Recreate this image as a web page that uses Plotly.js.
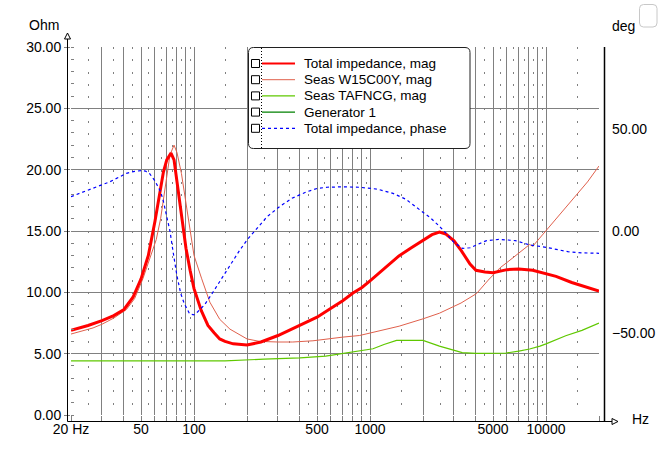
<!DOCTYPE html>
<html><head><meta charset="utf-8">
<script src="https://cdn.plot.ly/plotly-3.0.1.min.js"></script>
<style>html,body{margin:0;padding:0;background:#fff;}#chart{width:672px;height:469px;}</style>
</head><body><div id="chart"></div>
<script>
// ---------- data ----------
const seriesNames = ['Total impedance, mag', 'Seas W15C00Y, mag', 'Seas TAFNCG, mag', 'Generator 1', 'Total impedance, phase'];

const totalFreq = [20, 25, 30, 35, 40, 45, 50, 55, 60, 64, 67, 70, 74, 77, 80, 85, 90, 95, 100, 110, 120, 130, 140, 150, 167, 200, 240, 300, 400, 500, 600, 700, 800, 900, 1000, 1200, 1460, 1700, 2000, 2250, 2480, 2700, 3000, 3300, 3700, 4000, 4500, 5000, 6000, 7000, 8400, 10000, 11400, 14000, 17000, 20000];
const totalOhm  = [6.9, 7.3, 7.7, 8.1, 8.6, 9.6, 11.1, 13.0, 15.8, 18.0, 19.8, 20.8, 21.35, 20.8, 19.0, 16.3, 13.6, 11.8, 10.3, 8.5, 7.3, 6.7, 6.2, 6.0, 5.8, 5.7, 5.95, 6.48, 7.3, 7.97, 8.7, 9.32, 9.94, 10.4, 10.94, 11.9, 12.97, 13.6, 14.27, 14.7, 14.92, 14.75, 14.2, 13.4, 12.3, 11.8, 11.65, 11.6, 11.85, 11.9, 11.8, 11.55, 11.3, 10.8, 10.45, 10.1];

const wooferFreq = [20, 26.7, 30, 35, 41.3, 46, 51.2, 56, 61, 64.6, 67.2, 70, 73, 77, 80, 84.8, 90.9, 96.7, 100, 110.6, 123, 140, 160, 200, 236, 300, 364, 474, 567, 700, 872, 1100, 1463, 2000, 2480, 3290, 4030, 4700, 5480, 5960, 6700, 7500, 8070, 8400, 9000, 10050, 13000, 17200, 20000];
const wooferOhm  = [6.6, 7.1, 7.4, 7.9, 8.6, 9.5, 11.1, 12.7, 14.3, 16.0, 17.8, 19.6, 21.2, 22.0, 21.4, 19.7, 17.0, 14.3, 13.0, 11.1, 9.2, 7.8, 7.0, 6.2, 6.0, 5.95, 5.95, 6.05, 6.2, 6.35, 6.48, 6.8, 7.24, 7.84, 8.3, 9.13, 9.9, 11.0, 12.0, 12.4, 13.0, 13.6, 13.9, 13.75, 14.25, 15.1, 17.0, 19.0, 20.3];

const tweeterFreq = [20, 150, 250, 400, 560, 700, 850, 1040, 1200, 1415, 2000, 2480, 3014, 3340, 4000, 5910, 7000, 8070, 9240, 10000, 12940, 16000, 20000];
const tweeterOhm  = [4.42, 4.42, 4.55, 4.65, 4.8, 5.0, 5.2, 5.4, 5.75, 6.08, 6.08, 5.62, 5.27, 5.08, 5.02, 5.05, 5.2, 5.38, 5.62, 5.8, 6.46, 6.9, 7.5];

const generatorFreq = [];
const generatorOhm  = [];

const phaseFreq = [20, 26.7, 33.3, 41.3, 46, 50, 53, 56, 60, 64.6, 67, 70, 73, 76, 80, 84, 88, 94.5, 100, 105, 115, 128.6, 145, 160, 180, 200, 227, 260, 306, 360, 437, 500, 570, 700, 870, 1100, 1350, 1600, 1920, 2200, 2440, 2700, 2970, 3360, 3700, 4040, 4590, 5460, 6690, 8070, 10050, 13300, 16000, 20000];
const phaseDeg  = [16.8, 20.9, 24.1, 28.2, 29.2, 29.5, 29.3, 28, 24.5, 19.2, 14.5, 7, 0, -10, -22, -30.5, -35.5, -40.6, -41, -39.5, -36, -29.7, -22.5, -16.5, -10, -4.4, 1.3, 7, 11.9, 16, 19.2, 20.8, 21.4, 21.6, 21.4, 20.5, 18.4, 15.5, 10.3, 6.5, 2.9, -1, -5.2, -8.5, -8.2, -6.8, -4.7, -4.1, -4.7, -6.8, -8, -10.1, -10.7, -10.9];

const xTickVals = [20, 50, 100, 500, 1000, 5000, 10000];
const xTickText = ['20 Hz', '50', '100', '500', '1000', '5000', '10000'];
const xGridVals = [20, 30, 40, 50, 60, 70, 80, 90, 100, 200, 300, 400, 500, 600, 700, 800, 900, 1000, 2000, 3000, 4000, 5000, 6000, 7000, 8000, 9000, 10000, 20000];
const xDotVals = [25, 35, 45, 55, 65, 75, 85, 95, 100, 150, 250, 350, 450, 550, 650, 750, 850, 950, 1000, 1500, 2500, 3500, 4500, 5500, 6500, 7500, 8500, 9500, 10000, 15000];
const yTickVals = [0, 5, 10, 15, 20, 25, 30];
const phaseTickVals = [-50, 0, 50];

// ---------- styles ----------
const colors = ['#ff0000', '#e0604c', '#5fc800', '#008000', '#0000ff'];
const widths = [3, 1, 1.2, 1.2, 1.2];
const dashes = ['solid', 'solid', 'solid', 'solid', '3px,3px'];

const W = 672, H = 469;
const L = 71, R = 599, T = 47, B = 415;
const fx = p => (p - L) / (R - L);
const fy = p => (B - p) / (B - T);
const FONT = 'Liberation Sans, Arial, sans-serif';

function pathPx(points, close) {
  return points.map((p, i) => (i ? 'L' : 'M') + fx(p[0]) + ',' + fy(p[1])).join(' ') + (close ? ' Z' : '');
}
function roundRect(x0, y0, x1, y1, r) {
  const P = (x, y) => fx(x) + ',' + fy(y);
  return 'M' + P(x0 + r, y0) + ' L' + P(x1 - r, y0) + ' Q' + P(x1, y0) + ' ' + P(x1, y0 + r) +
    ' L' + P(x1, y1 - r) + ' Q' + P(x1, y1) + ' ' + P(x1 - r, y1) +
    ' L' + P(x0 + r, y1) + ' Q' + P(x0, y1) + ' ' + P(x0, y1 - r) +
    ' L' + P(x0, y0 + r) + ' Q' + P(x0, y0) + ' ' + P(x0 + r, y0) + ' Z';
}

const traces = [
  {x: tweeterFreq, y: tweeterOhm, idx: 2},
  {x: generatorFreq, y: generatorOhm, idx: 3, xa: 'x2'},
  {x: wooferFreq, y: wooferOhm, idx: 1},
  {x: totalFreq, y: totalOhm, idx: 0},
  {x: phaseFreq, y: phaseDeg, idx: 4, y2: true}
].map(t => ({
  type: 'scatter', mode: 'lines', x: t.x, y: t.y, name: seriesNames[t.idx],
  xaxis: t.xa || 'x', yaxis: t.y2 ? 'y2' : 'y',
  line: {color: colors[t.idx], width: widths[t.idx], dash: dashes[t.idx]},
  hoverinfo: 'skip', showlegend: false
}));

const shapes = [];
const black = {color: '#000000', width: 1};
// axis frame lines with arrows
shapes.push({type: 'path', xref: 'paper', yref: 'paper', path: pathPx([[67.5, 421.5], [67.5, 38]]), line: black});
shapes.push({type: 'path', xref: 'paper', yref: 'paper', path: pathPx([[67.5, 33], [64.5, 39], [70.5, 39]], true), line: black, fillcolor: '#ffffff'});
shapes.push({type: 'path', xref: 'paper', yref: 'paper', path: pathPx([[67.5, 421.5], [612, 421.5]]), line: black});
shapes.push({type: 'path', xref: 'paper', yref: 'paper', path: pathPx([[618, 421.5], [612, 418.5], [612, 424.5]], true), line: black, fillcolor: '#ffffff'});
shapes.push({type: 'path', xref: 'paper', yref: 'paper', path: pathPx([[604.5, 47], [604.5, 421.5]]), line: {color: '#000000', width: 1.5}});
// small rounded box top right
shapes.push({type: 'path', xref: 'paper', yref: 'paper', path: roundRect(639.5, 4.5, 657, 27, 4), line: {color: '#c8c8c8', width: 1}, fillcolor: '#ffffff'});
// legend
const lgX0 = 248.5, lgX1 = 470, lgY0 = 47.5, lgY1 = 148.5;
shapes.push({type: 'path', xref: 'paper', yref: 'paper', path: roundRect(lgX0, lgY0, lgX1, lgY1, 5), line: {color: '#202020', width: 1}, fillcolor: '#ffffff'});
shapes.push({type: 'path', xref: 'paper', yref: 'paper', path: pathPx([[261.5, 48], [261.5, 148]]), line: {color: '#000000', width: 1, dash: '1px,2px'}});
const annotations = [];
seriesNames.forEach((name, i) => {
  const ry = 63.5 + 16.2 * i;
  shapes.push({type: 'path', xref: 'paper', yref: 'paper', path: pathPx([[251.5, ry - 4], [259.5, ry - 4], [259.5, ry + 4], [251.5, ry + 4]], true), line: {color: '#000000', width: 1}, fillcolor: '#ffffff'});
  shapes.push({type: 'path', xref: 'paper', yref: 'paper', path: pathPx([[262, ry], [295, ry]]), line: {color: colors[i], width: Math.min(widths[i], 2), dash: dashes[i]}});
  annotations.push({xref: 'paper', yref: 'paper', x: fx(302), y: fy(ry), xanchor: 'left', yanchor: 'middle', showarrow: false, text: name, font: {family: FONT, size: 13.5, color: '#000000'}});
});
annotations.push({xref: 'paper', yref: 'paper', x: fx(44), y: fy(25.5), xanchor: 'center', yanchor: 'middle', showarrow: false, text: 'Ohm', font: {family: FONT, size: 14, color: '#000000'}});
annotations.push({xref: 'paper', yref: 'paper', x: fx(623), y: fy(26), xanchor: 'center', yanchor: 'middle', showarrow: false, text: 'deg', font: {family: FONT, size: 14, color: '#000000'}});
annotations.push({xref: 'paper', yref: 'paper', x: fx(640.5), y: fy(419), xanchor: 'center', yanchor: 'middle', showarrow: false, text: 'Hz', font: {family: FONT, size: 14, color: '#000000'}});

const xr = [Math.log10(20), Math.log10(20000)];
const layout = {
  width: W, height: H,
  margin: {l: L, r: W - R, t: T, b: H - B, pad: 0},
  paper_bgcolor: '#ffffff', plot_bgcolor: '#ffffff',
  showlegend: false,
  font: {family: FONT, size: 14, color: '#000000'},
  xaxis: {
    type: 'log', range: xr, tickmode: 'array', tickvals: xTickVals, ticktext: xTickText,
    showgrid: true, gridcolor: '#808080', gridwidth: 1,
    ticks: 'outside', ticklen: 1, tickcolor: '#808080', tickwidth: 1,
    showline: false, zeroline: false, ticklabelstandoff: 0,
    tickfont: {family: FONT, size: 14, color: '#000000'},
    minor: {tickmode: 'array', tickvals: xGridVals, showgrid: true, gridcolor: '#808080', gridwidth: 1, ticks: 'outside', ticklen: 6, tickcolor: '#808080'}
  },
  xaxis2: {
    type: 'log', range: xr, overlaying: 'x', anchor: 'y', side: 'bottom', tickmode: 'array', tickvals: xDotVals,
    showgrid: true, gridcolor: '#808080', gridwidth: 1, griddash: '2px,10.267px',
    ticks: '', showticklabels: false, showline: false, zeroline: false
  },
  yaxis: {
    range: [0, 30], tickmode: 'array', tickvals: yTickVals, tickformat: '.2f',
    showgrid: true, gridcolor: '#808080', gridwidth: 1,
    ticks: 'outside', ticklen: 6, tickcolor: '#808080', tickwidth: 1,
    showline: false, zeroline: false, ticklabelstandoff: 0,
    tickfont: {family: FONT, size: 14, color: '#000000'},
    minor: {dtick: 1, ticks: 'inside', ticklen: 3, tickcolor: '#808080', showgrid: false}
  },
  yaxis2: {
    range: [-90, 90], overlaying: 'y', side: 'right', anchor: 'x', tickmode: 'array', tickvals: phaseTickVals, tickformat: '.2f',
    showgrid: false, zeroline: false, showline: false, ticks: '', ticklabelstandoff: 12,
    tickfont: {family: FONT, size: 14, color: '#000000'}
  },
  shapes: shapes,
  annotations: annotations
};

Plotly.newPlot('chart', traces, layout, {staticPlot: true, displayModeBar: false});
</script>
</body></html>
